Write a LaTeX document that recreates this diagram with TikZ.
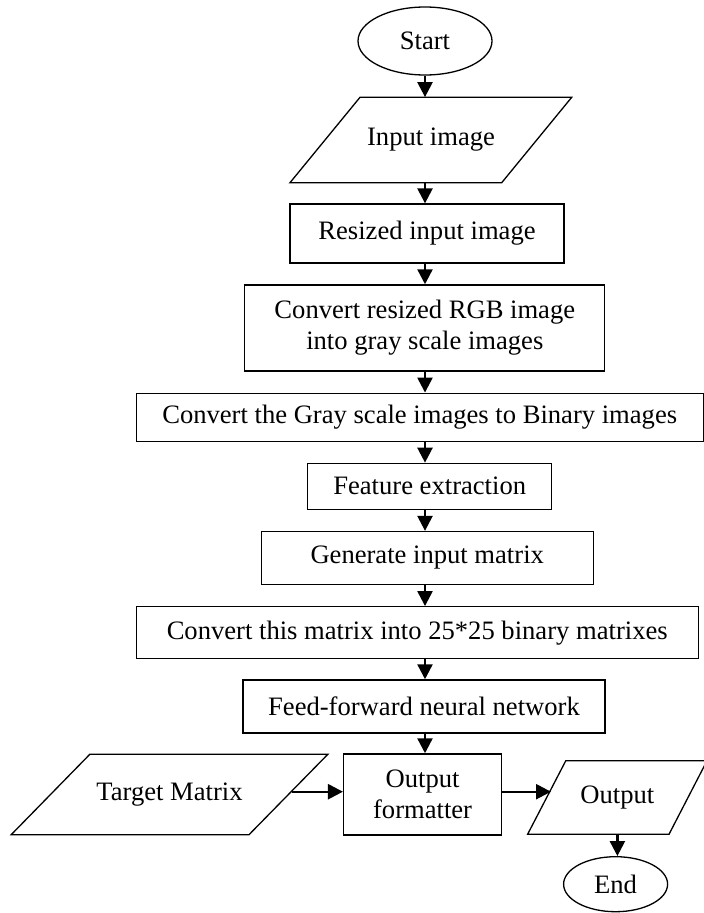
\documentclass[tikz,border=0pt]{standalone}
\usepackage{fontspec}
\setmainfont{Liberation Serif}
\usetikzlibrary{shapes.geometric,arrows.meta}
\begin{document}
\begin{tikzpicture}[x=1pt,y=-1pt,
  txt/.style={inner sep=0pt,align=center,font=\fontsize{26.6}{31}\selectfont},
  base/.style={txt,draw,line width=1.3pt},
  procbox/.style={base,rectangle},
  termnode/.style={base,ellipse},
  iotext/.style={txt,rectangle},
  ioshape/.style={draw,line width=1.3pt,line join=miter},
  arr/.style={line width=2.4pt,-{Triangle[length=15pt,width=15pt]}}]
\useasboundingbox (0,0) rectangle (704,913);
\coordinate (axis) at (425,0);
\node[termnode,minimum width=134pt,minimum height=68pt] (start) at (425,41) {Start};
% Input image parallelogram
\draw[ioshape] (290,182.7) -- (501.7,182.7) -- (571.7,97.3) -- (360,97.3) -- cycle;
\node[iotext,minimum width=140pt,minimum height=85.4pt] (in) at (431,140) {Input image};
\node[procbox,minimum width=274pt,minimum height=59pt] (res) at (427,233.5) {Resized input image};
\node[procbox,minimum width=360pt,minimum height=86pt] (rgb) at (424.8,327.9) {Convert resized RGB image\\into gray scale images};
\node[procbox,minimum width=567pt,minimum height=48pt] (gray) at (419.7,417.2) {Convert the Gray scale images to Binary images};
\node[procbox,minimum width=244pt,minimum height=46pt] (feat) at (429.7,486.3) {Feature extraction};
\node[procbox,minimum width=332pt,minimum height=53pt] (gen) at (427.2,558) {Generate input matrix};
\node[procbox,minimum width=562pt,minimum height=52pt] (conv) at (417.2,632.7) {Convert this matrix into 25*25 binary matrixes};
\node[procbox,minimum width=362pt,minimum height=53pt] (ffnn) at (424,706.4) {Feed-forward neural network};
\node[procbox,minimum width=158pt,minimum height=81pt] (fmt) at (422.6,794.4) {Output\\formatter};
% Target Matrix parallelogram
\draw[ioshape] (11.2,834.7) -- (249,834.7) -- (327.8,754.3) -- (89.8,754.3) -- cycle;
\node[iotext,minimum width=160pt,minimum height=80.4pt] (tgt) at (169.5,794.5) {Target Matrix};
% Output parallelogram
\draw[ioshape] (527.6,834.3) -- (669,834.3) -- (707,760.7) -- (565.8,760.7) -- cycle;
\node[iotext,minimum width=100pt,minimum height=73.6pt] (out) at (617.4,797.5) {Output};
\node[termnode,minimum width=104pt,minimum height=55pt] (end) at (615.6,884.2) {End};
\coordinate (tgtR) at (291.5,791.7);
\coordinate (outL) at (551,791.7);
\draw[arr] (axis |- start.south) -- (axis |- in.north);
\draw[arr] (axis |- in.south) -- (axis |- res.north);
\draw[arr] (axis |- res.south) -- (axis |- rgb.north);
\draw[arr] (axis |- rgb.south) -- (axis |- gray.north);
\draw[arr] (axis |- gray.south) -- (axis |- feat.north);
\draw[arr] (axis |- feat.south) -- (axis |- gen.north);
\draw[arr] (axis |- gen.south) -- (axis |- conv.north);
\draw[arr] (axis |- conv.south) -- (axis |- ffnn.north);
\draw[arr] (axis |- ffnn.south) -- (axis |- fmt.north);
\draw[arr] (tgtR) -- (tgtR -| fmt.west);
\draw[arr] (outL -| fmt.east) -- (outL);
\draw[arr] (out.south) -- (out.south |- end.north);
\end{tikzpicture}
\end{document}
